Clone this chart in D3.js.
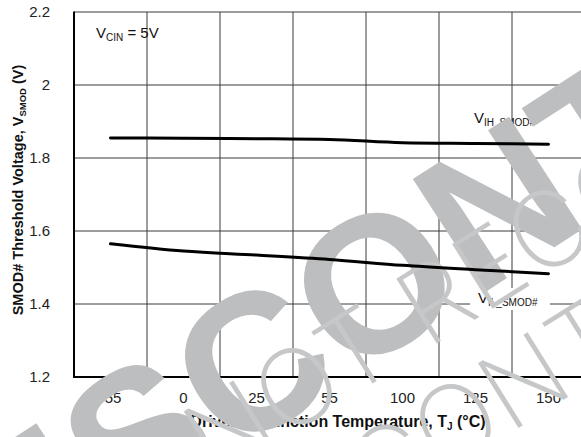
<!DOCTYPE html>
<html><head><meta charset="utf-8">
<script src="https://cdn.jsdelivr.net/npm/d3@7"></script>
<style>body{margin:0;background:#fff;} text{font-family:"Liberation Sans",Arial,sans-serif;}</style>
</head><body><svg id="c" width="581" height="437"></svg>
<script>
const categories = ["-55", "0", "25", "55", "100", "125", "150"];
const vihSmod = [1.855, 1.854, 1.853, 1.851, 1.842, 1.840, 1.838];
const vilSmod = [1.565, 1.545, 1.534, 1.522, 1.506, 1.494, 1.483];
const yTicks = [1.2, 1.4, 1.6, 1.8, 2.0, 2.2];
const yTickLabels = ["1.2", "1.4", "1.6", "1.8", "2", "2.2"];

const svg = d3.select("#c");
const L = 74, R = 585, T = 12, B = 377;
const x = d3.scaleBand().domain(categories).range([L, R]).paddingInner(0).paddingOuter(0);
const xc = d => x(d) + x.bandwidth() / 2;
const y = d3.scaleLinear().domain([1.2, 2.2]).range([B, T]);

svg.append("rect").attr("width", 581).attr("height", 437).attr("fill", "#fff");

const g = svg.append("g");
g.selectAll(".vg").data(categories.slice(1).concat(["end"])).join("line")
  .attr("x1", (d, i) => i < categories.length - 1 ? x(d) : R)
  .attr("x2", (d, i) => i < categories.length - 1 ? x(d) : R)
  .attr("y1", T).attr("y2", B).attr("stroke", "#3a3a3a").attr("stroke-width", 1);
g.selectAll(".hg").data(yTicks.slice(1)).join("line")
  .attr("x1", L).attr("x2", R).attr("y1", d => y(d)).attr("y2", d => y(d))
  .attr("stroke", "#3a3a3a").attr("stroke-width", 1);
g.append("line").attr("x1", L).attr("x2", L).attr("y1", T - 0.5).attr("y2", B + 1).attr("stroke", "#000").attr("stroke-width", 2);
g.append("line").attr("x1", L - 1).attr("x2", R).attr("y1", B).attr("y2", B).attr("stroke", "#000").attr("stroke-width", 2);

g.selectAll(".yl").data(yTicks).join("text")
  .attr("x", 50).attr("y", d => y(d)).attr("dy", "0.36em")
  .attr("text-anchor", "end").attr("font-size", 15).attr("fill", "#222")
  .text((d, i) => yTickLabels[i]);
g.selectAll(".xl").data(categories).join("text")
  .attr("x", d => xc(d)).attr("y", 403)
  .attr("text-anchor", "middle").attr("font-size", 15).attr("fill", "#222")
  .text(d => d);

const xt = g.append("text").attr("x", 338).attr("y", 427).attr("text-anchor", "middle")
  .attr("font-size", 16).attr("font-weight", "bold").attr("fill", "#111");
xt.append("tspan").text("Driver IC Junction Temperature, T");
xt.append("tspan").attr("font-size", 10).attr("dy", 3).text("J");
xt.append("tspan").attr("dy", -3).text(" (\u00B0C)");

const yt = g.append("text").attr("transform", "translate(23,190) rotate(-90)").attr("text-anchor", "middle")
  .attr("font-size", 14.5).attr("font-weight", "bold").attr("fill", "#111");
yt.append("tspan").text("SMOD# Threshold Voltage, V");
yt.append("tspan").attr("font-size", 9.5).attr("dy", 3).text("SMOD");
yt.append("tspan").attr("dy", -3).text(" (V)");

const a1 = g.append("text").attr("x", 96).attr("y", 38).attr("font-size", 15).attr("fill", "#111");
a1.append("tspan").text("V");
a1.append("tspan").attr("font-size", 10).attr("dy", 3).text("CIN");
a1.append("tspan").attr("dy", -3).text(" = 5V");

g.append("rect").attr("x", 470).attr("y", 288).attr("width", 80).attr("height", 22).attr("fill", "#fff");
const a2 = g.append("text").attr("x", 474).attr("y", 123).attr("font-size", 15).attr("fill", "#111");
a2.append("tspan").text("V");
a2.append("tspan").attr("font-size", 10).attr("dy", 3).text("IH_SMOD#");
const a3 = g.append("text").attr("x", 478).attr("y", 303).attr("font-size", 15).attr("fill", "#111");
a3.append("tspan").text("V");
a3.append("tspan").attr("font-size", 10).attr("dy", 3).text("IL_SMOD#");

// watermarks
svg.append("text").attr("transform", "translate(-43,635) rotate(-33)")
  .attr("font-size", 195).attr("font-weight", "bold").attr("fill", "#bdbec0")
  .text("DISCONTINUED");
const wm2 = svg.append("g").attr("transform", "translate(215,482) rotate(-32)")
  .attr("font-size", 105).attr("fill", "#c6c7c9");
wm2.append("text").attr("x", 0).attr("y", 0).style("font-family", "Inter").attr("font-weight", 150).text("NOT RECOMMENDED FOR NEW DESIGNS");
wm2.append("text").attr("x", 120).attr("y", 115).style("font-family", "Inter").attr("font-weight", 150).text("CONTACT FACTORY");

const line = d3.line().x((d, i) => xc(categories[i])).y(d => y(d)).curve(d3.curveMonotoneX);
[vihSmod, vilSmod].forEach(s => {
  svg.append("path").attr("d", line(s)).attr("fill", "none").attr("stroke", "#000")
    .attr("stroke-width", 3).attr("stroke-linecap", "round");
});
</script></body></html>
